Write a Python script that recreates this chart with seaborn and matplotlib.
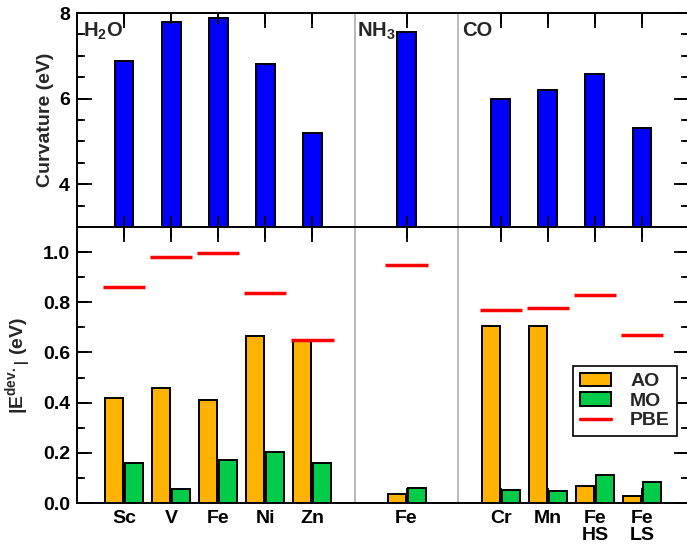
import matplotlib
matplotlib.use("Agg")
import numpy as np
import matplotlib.pyplot as plt
import matplotlib.ticker as mticker
from matplotlib.patches import Patch
from matplotlib.lines import Line2D
import pandas as pd
import seaborn as sns

# data
x_pos = [1, 2, 3, 4, 5, 7, 9, 10, 11, 12]
x_labels = ["Sc", "V", "Fe", "Ni", "Zn", "Fe", "Cr", "Mn", "Fe\nHS", "Fe\nLS"]
curvature = [6.88, 7.80, 7.89, 6.80, 5.19, 7.55, 6.00, 6.21, 6.57, 5.31]
ao_dev = [0.417, 0.460, 0.412, 0.664, 0.645, 0.037, 0.704, 0.707, 0.067, 0.028]
mo_dev = [0.160, 0.057, 0.172, 0.205, 0.158, 0.060, 0.052, 0.047, 0.110, 0.083]
pbe_dev = [0.861, 0.980, 0.995, 0.835, 0.650, 0.948, 0.769, 0.776, 0.828, 0.668]
groups = ["H$_2$O", "NH$_3$", "CO"]
group_x = [0.13, 5.95, 8.18]
separators = [5.9, 8.1]

sns.set_theme(style="white", rc={
    "axes.linewidth": 1.4, "axes.edgecolor": "black",
    "xtick.direction": "in", "ytick.direction": "in",
    "xtick.top": True, "xtick.bottom": True,
    "ytick.left": True, "ytick.right": True,
    "xtick.major.size": 11, "ytick.major.size": 11,
    "ytick.minor.size": 6, "xtick.major.width": 1.3,
    "ytick.major.width": 1.3, "ytick.minor.width": 1.2,
    "xtick.color": "black", "ytick.color": "black",
    "xtick.major.pad": 5, "ytick.major.pad": 5,
    "xtick.labelsize": 14, "ytick.labelsize": 14,
})
plt.rcParams["font.family"] = ["Liberation Sans", "DejaVu Sans"]
plt.rcParams["font.weight"] = "bold"
plt.rcParams["mathtext.default"] = "regular"

W, H = 6.87, 5.45
fig = plt.figure(figsize=(W, H), dpi=100)
ax1 = fig.add_axes([0.112, 0.5835, 0.891, 0.3925])
ax2 = fig.add_axes([0.112, 0.077, 0.891, 0.5065], sharex=ax1)

# top panel: curvature
df_top = pd.DataFrame({"x": x_pos, "curv": curvature})
sns.barplot(data=df_top, x="x", y="curv", native_scale=True, width=0.4,
            color="#0000ff", saturation=1, edgecolor="black", linewidth=1.4,
            errorbar=None, ax=ax1)
ax1.set_ylim(3, 8)
ax1.yaxis.set_major_locator(mticker.MultipleLocator(2))
ax1.yaxis.set_minor_locator(mticker.MultipleLocator(0.5))
ax1.set_ylabel("Curvature (eV)", fontsize=14, fontweight="bold")
ax1.set_xlabel("")

# bottom panel: deviations
df_bot = pd.DataFrame({
    "x": x_pos * 2,
    "dev": ao_dev + mo_dev,
    "orb": ["AO"] * len(x_pos) + ["MO"] * len(x_pos),
})
sns.barplot(data=df_bot, x="x", y="dev", hue="orb", native_scale=True,
            width=0.85, gap=0.1, palette={"AO": "#ffb300", "MO": "#00cc4a"},
            saturation=1, edgecolor="black", linewidth=1.4, errorbar=None,
            legend=False, ax=ax2)
for p in ax2.patches:
    p.set_zorder(2.6)
for xp, val in zip(x_pos, pbe_dev):
    ax2.hlines(val, xp - 0.45, xp + 0.45, color="#ff0000", lw=2.5, zorder=3)
ax2.set_ylim(0, 1.1)
ax2.yaxis.set_major_locator(mticker.MultipleLocator(0.2))
ax2.yaxis.set_minor_locator(mticker.MultipleLocator(0.1))
ax2.yaxis.set_major_formatter(mticker.FormatStrFormatter("%.1f"))
ax2.set_ylabel("|E$^{dev.}$$_|$ (eV)", fontsize=14, fontweight="bold")
ax2.set_xlabel("")

ax2.set_xlim(0, 13)
ax2.set_xticks(x_pos)
ax2.set_xticklabels(x_labels, fontweight="bold", fontsize=14, va="top",
                    linespacing=1.0)
ax2.xaxis.set_minor_locator(mticker.NullLocator())
ax1.tick_params(axis="x", labelbottom=False)

for ax in (ax1, ax2):
    for s in separators:
        ax.axvline(s, color="#b4b4b4", lw=1.3, zorder=0)
    for lab in ax.get_yticklabels():
        lab.set_fontweight("bold")


# tick marks drawn as plain segments (the marker ticks did not show up)
def draw_ticks(ax, bottom_z):
    pos = ax.get_position()
    w_px, h_px = pos.width * W * 100, pos.height * H * 100
    y0, y1 = ax.get_ylim()
    ymaj = [v for v in ax.yaxis.get_major_locator().tick_values(y0, y1) if y0 <= v <= y1]
    ymin = [v for v in ax.yaxis.get_minor_locator().tick_values(y0, y1) if y0 <= v <= y1]
    ytr = ax.get_yaxis_transform()
    xtr = ax.get_xaxis_transform()
    for vals, ln, lw in ((ymaj, 11, 1.3), (ymin, 6, 1.2)):
        f = ln / w_px
        ax.hlines(vals, 0, f, transform=ytr, color="black", lw=lw,
                  clip_on=False, zorder=3)
        ax.hlines(vals, 1 - f, 1, transform=ytr, color="black", lw=lw,
                  clip_on=False, zorder=3)
    g = 11 / h_px
    ax.vlines(x_pos, 0, g, transform=xtr, color="black", lw=1.3,
              clip_on=False, zorder=bottom_z)
    ax.vlines(x_pos, 1 - g, 1, transform=xtr, color="black", lw=1.3,
              clip_on=False, zorder=3)


draw_ticks(ax1, 3)
draw_ticks(ax2, 2)

ax1.yaxis.set_label_coords(-0.037, 0.5)
ax2.yaxis.set_label_coords(-0.07, 0.5)

for name, gx in zip(groups, group_x):
    ax1.text(gx, 0.965, name, transform=ax1.get_xaxis_transform(),
             ha="left", va="top", fontsize=14.5, fontweight="bold")

handles = [Patch(facecolor="#ffb300", edgecolor="black", lw=1.4, label="AO"),
           Patch(facecolor="#00cc4a", edgecolor="black", lw=1.4, label="MO"),
           Line2D([], [], color="#ff0000", lw=2.5, label="PBE")]
leg = ax2.legend(handles=handles, loc="upper left", bbox_to_anchor=(0.81, 0.497),
                 borderaxespad=0, fancybox=False, edgecolor="black",
                 framealpha=1, prop={"weight": "bold", "size": 14},
                 handlelength=1.6, handletextpad=1.0, labelspacing=0.1,
                 borderpad=0.35)
leg.get_frame().set_linewidth(1.2)

fig.savefig("out.png", dpi=100)
